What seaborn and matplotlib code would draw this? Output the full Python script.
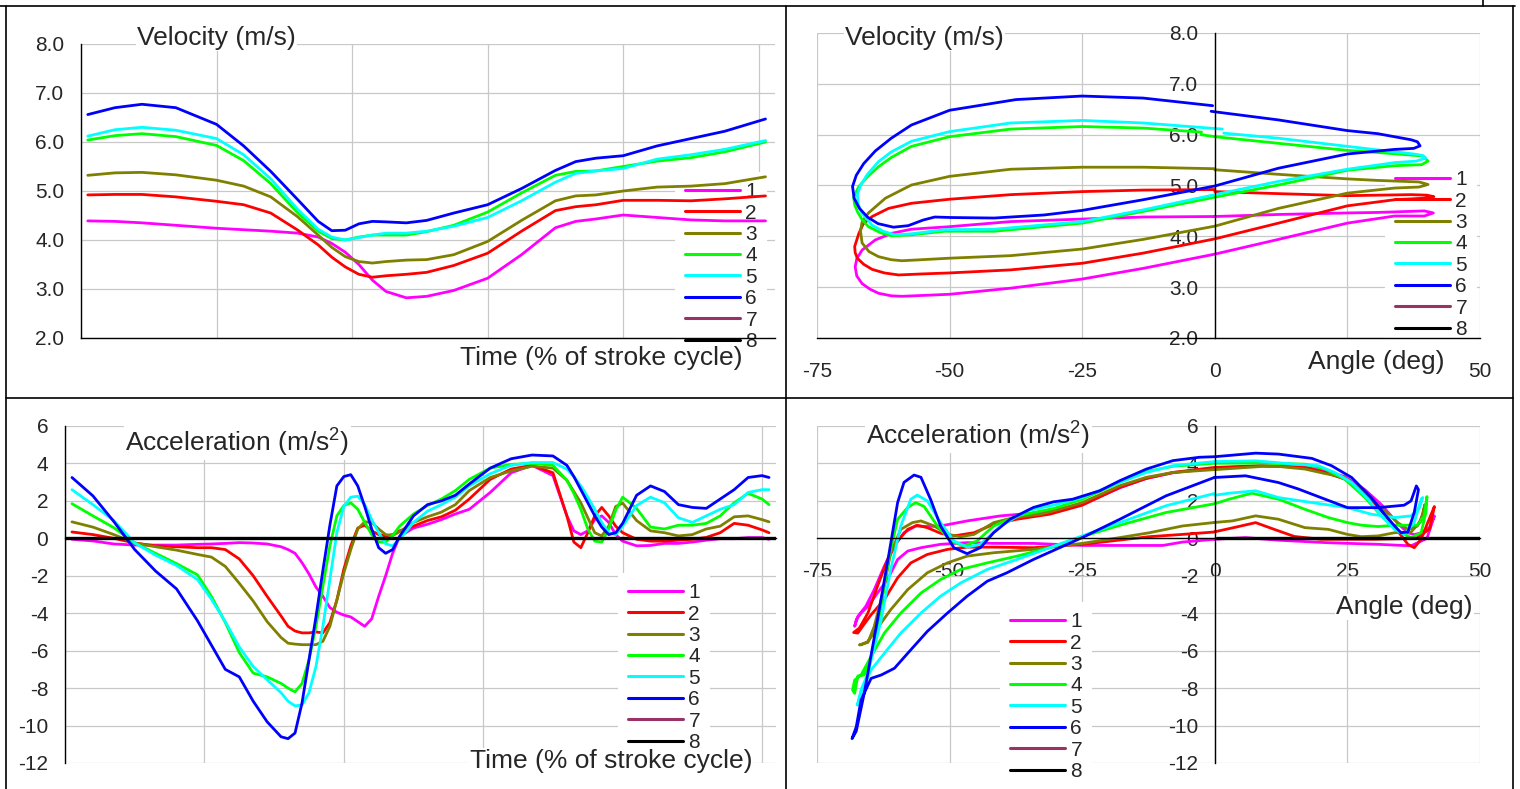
import numpy as np
import pandas as pd
import seaborn as sns
import matplotlib.pyplot as plt
from matplotlib.lines import Line2D
from matplotlib.ticker import MultipleLocator, FormatStrFormatter

sns.set_style('white')
plt.rcParams['font.family'] = ['Liberation Sans', 'DejaVu Sans']
plt.rcParams['mathtext.fontset'] = 'custom'
plt.rcParams['mathtext.rm'] = 'Liberation Sans'
plt.rcParams['mathtext.default'] = 'regular'
plt.rcParams['axes.unicode_minus'] = False

# series names and colours (Excel default palette)
SERIES = ['1', '2', '3', '4', '5', '6', '7', '8']
COLORS = ['#FF00FF', '#FF0000', '#808000', '#00FF00', '#00FFFF', '#0000FF', '#993366', '#000000']

# velocity vs time (% of stroke cycle)
T_VEL = [1, 5, 9, 14, 20, 24, 28, 32, 35, 37, 39, 41, 43, 45, 48, 51, 55, 60, 65, 70, 73, 76, 80, 85, 90, 95, 101]
vel_1 = [4.39, 4.38, 4.35, 4.30, 4.24, 4.21, 4.18, 4.14, 4.06, 3.93, 3.75, 3.50, 3.18, 2.95, 2.82, 2.85, 2.97, 3.22, 3.70, 4.25, 4.38, 4.43, 4.51, 4.46, 4.41, 4.39, 4.39]
vel_2 = [4.92, 4.93, 4.93, 4.88, 4.79, 4.72, 4.55, 4.20, 3.90, 3.65, 3.45, 3.30, 3.24, 3.27, 3.30, 3.34, 3.48, 3.73, 4.18, 4.60, 4.68, 4.72, 4.81, 4.81, 4.80, 4.84, 4.90]
vel_3 = [5.32, 5.37, 5.38, 5.33, 5.22, 5.10, 4.88, 4.47, 4.10, 3.85, 3.66, 3.56, 3.53, 3.56, 3.59, 3.60, 3.70, 3.97, 4.40, 4.80, 4.90, 4.92, 5.00, 5.08, 5.10, 5.15, 5.29]
vel_4 = [6.04, 6.13, 6.17, 6.11, 5.93, 5.62, 5.15, 4.55, 4.18, 4.03, 4.00, 4.06, 4.10, 4.10, 4.10, 4.17, 4.30, 4.57, 4.96, 5.32, 5.40, 5.41, 5.50, 5.61, 5.68, 5.80, 6.00]
vel_5 = [6.12, 6.25, 6.30, 6.24, 6.07, 5.74, 5.25, 4.62, 4.22, 4.06, 4.00, 4.05, 4.10, 4.14, 4.14, 4.18, 4.28, 4.46, 4.80, 5.18, 5.36, 5.41, 5.46, 5.65, 5.74, 5.85, 6.03]
vel_6 = [6.56, 6.70, 6.77, 6.70, 6.36, 5.92, 5.40, 4.82, 4.38, 4.19, 4.20, 4.33, 4.38, 4.37, 4.35, 4.40, 4.55, 4.72, 5.05, 5.42, 5.60, 5.67, 5.72, 5.92, 6.07, 6.22, 6.47]

# acceleration vs time
T_ACC = [1, 4, 7, 10, 13, 16, 19, 21, 23, 25, 27, 29, 31, 32, 33, 34, 35, 36, 37, 38, 39, 40, 41, 42, 43, 44, 45, 46, 47, 48,
         50, 52, 54, 56, 58, 61, 64, 67, 70, 72, 73, 74, 75, 76, 77, 78, 79, 80, 82, 84, 86, 88, 90, 92, 94, 96, 98, 100, 101]
acc_1 = [-0.05, -0.14, -0.3, -0.36, -0.36, -0.36, -0.32, -0.3, -0.27, -0.23, -0.25, -0.3, -0.45, -0.6, -0.8, -1.3, -1.9, -2.6, -3.1, -3.7,
         -3.95, -4.1, -4.2, -4.45, -4.7, -4.3, -3.1, -2.0, -0.8, 0.1, 0.55, 0.75, 1.0, 1.3, 1.55, 2.45, 3.5, 3.9, 3.35, 1.2,
         0.4, 0.2, 0.4, 1.0, 1.2, 0.85, 0.2, -0.15, -0.4, -0.38, -0.27, -0.27, -0.2, -0.1, -0.02, -0.02, 0.04, 0.04, -0.05]
acc_2 = [0.34, 0.2, 0.0, -0.25, -0.4, -0.45, -0.5, -0.5, -0.6, -1.1, -2.0, -3.1, -4.15, -4.7, -4.95, -5.05, -5.05, -5.0, -5.05, -4.5,
         -3.3, -1.65, -0.4, 0.55, 0.7, 0.4, 0.2, 0.13, 0.2, 0.4, 0.65, 0.95, 1.15, 1.5, 2.1, 3.15, 3.7, 3.9, 3.5, 1.2,
         -0.2, -0.5, 0.3, 1.2, 1.65, 1.2, 0.65, 0.3, -0.05, -0.15, -0.15, -0.1, -0.05, 0.05, 0.3, 0.8, 0.7, 0.45, 0.3]
acc_3 = [0.88, 0.6, 0.2, -0.25, -0.45, -0.63, -0.86, -1.0, -1.5, -2.4, -3.35, -4.45, -5.3, -5.6, -5.65, -5.68, -5.68, -5.68, -5.5, -4.7,
         -3.3, -1.85, -0.6, 0.5, 0.88, 0.85, 0.5, 0.2, 0.15, 0.35, 0.85, 1.15, 1.4, 1.8, 2.55, 3.25, 3.6, 3.85, 3.75, 3.1,
         2.5, 1.9, 1.1, 0.3, 0.13, 0.65, 1.7, 1.88, 0.95, 0.4, 0.3, 0.13, 0.2, 0.5, 0.65, 1.15, 1.2, 1.0, 0.88]
acc_4 = [1.85, 1.2, 0.57, -0.25, -0.8, -1.35, -1.95, -3.1, -4.5, -6.1, -7.2, -7.4, -7.75, -8.0, -8.2, -7.75, -6.5, -4.7, -2.55, -0.4,
         1.2, 1.75, 1.9, 1.55, 0.85, 0.2, -0.2, -0.2, 0.15, 0.65, 1.3, 1.75, 2.1, 2.55, 3.15, 3.75, 3.95, 4.0, 3.9, 3.1,
         2.4, 1.55, 0.5, -0.15, -0.2, 0.5, 1.5, 2.2, 1.6, 0.6, 0.5, 0.7, 0.7, 0.8, 1.2, 1.9, 2.4, 2.1, 1.8]
acc_5 = [2.6, 1.8, 0.95, -0.25, -0.9, -1.45, -2.2, -3.25, -4.45, -5.8, -6.85, -7.55, -8.25, -8.7, -8.95, -8.9, -8.25, -6.85, -4.7, -2.2,
         0.3, 1.7, 2.2, 2.25, 1.8, 1.0, 0.3, -0.3, -0.4, -0.05, 0.85, 1.45, 1.8, 2.2, 2.8, 3.45, 3.9, 4.05, 4.05, 3.7,
         3.3, 2.8, 2.2, 1.55, 0.85, 0.3, 0.2, 0.65, 1.75, 2.2, 1.9, 1.1, 0.85, 1.2, 1.55, 1.8, 2.45, 2.6, 2.6]
acc_6 = [3.25, 2.27, 0.9, -0.6, -1.75, -2.7, -4.4, -5.7, -7.0, -7.4, -8.7, -9.8, -10.6, -10.7, -10.4, -8.8, -6.5, -4.2, -1.7, 0.7,
         2.8, 3.3, 3.4, 2.8, 1.7, 0.5, -0.5, -0.8, -0.6, 0.1, 1.2, 1.8, 2.0, 2.3, 2.9, 3.75, 4.25, 4.45, 4.4, 3.9,
         3.3, 2.6, 1.9, 1.2, 0.6, 0.2, 0.3, 0.8, 2.3, 2.8, 2.5, 1.8, 1.65, 1.6, 2.1, 2.6, 3.25, 3.35, 3.25]
t_78 = [0, 102]
acc_78 = [0, 0]

# velocity vs angle (loops, in time order)
tr_ang_1 = [0, -13.5, -25, -38.5, -50, -57.2, -60.9, -64, -66.5, -67.5, -67.8, -67.5, -66.5, -65, -63.4, -61, -59, -50, -38.5, -25,
            -13.5, 0, 12, 25, 33.9, 39.5, 41.2, 39.5, 30.7, 25, 12, 0]
tr_vel_1 = [4.39, 4.38, 4.34, 4.29, 4.19, 4.14, 4.06, 3.93, 3.73, 3.56, 3.40, 3.22, 3.07, 2.96, 2.88, 2.83, 2.82, 2.86, 2.98, 3.16,
            3.37, 3.65, 3.94, 4.26, 4.40, 4.40, 4.46, 4.50, 4.47, 4.46, 4.43, 4.39]
tr_ang_2 = [0, -13.5, -25, -38.5, -50, -57.2, -61.5, -64.6, -66.3, -67.1, -67.9, -67.8, -67.4, -66.2, -64.6, -62.3, -59.6, -55.3, -50, -38.5,
            -25, -13.5, 0, 12, 25, 33.9, 39.5, 41.3, 40, 37, 25, 12, 0]
tr_vel_2 = [4.92, 4.91, 4.88, 4.82, 4.73, 4.65, 4.55, 4.39, 4.24, 4.06, 3.80, 3.68, 3.57, 3.45, 3.35, 3.28, 3.24, 3.26, 3.28, 3.34,
            3.47, 3.67, 3.95, 4.26, 4.60, 4.72, 4.75, 4.78, 4.81, 4.82, 4.80, 4.84, 4.88]
tr_ang_3 = [0, -13.5, -25, -38.5, -50, -57.2, -62.1, -65.3, -66.5, -66.8, -66.5, -65.2, -63.4, -61, -59, -55.3, -50, -38.5, -25, -13.5,
            0, 12, 25, 33.9, 38.5, 40.2, 38.5, 30.7, 25, 12, 0]
tr_vel_3 = [5.33, 5.36, 5.36, 5.32, 5.18, 5.01, 4.75, 4.46, 4.28, 4.10, 3.87, 3.70, 3.60, 3.54, 3.52, 3.54, 3.57, 3.62, 3.75, 3.94,
            4.2, 4.55, 4.85, 4.95, 4.97, 5.02, 5.07, 5.10, 5.13, 5.22, 5.31]
tr_ang_4 = [-2.5, -13.5, -25, -38.5, -50, -57.2, -61, -63.4, -65.5, -67.1, -68.1, -67.9, -67.4, -66.5, -65.3, -63, -60.9, -57.2, -51, -41.6,
            -25, -13.5, 0, 12, 25, 33.9, 39.0, 40.2, 39.2, 30.7, 25, 12, 0, -2.6]
tr_vel_4 = [6.05, 6.13, 6.16, 6.11, 5.96, 5.77, 5.55, 5.37, 5.17, 4.98, 4.78, 4.62, 4.49, 4.33, 4.19, 4.07, 4.01, 4.03, 4.10, 4.10,
            4.26, 4.49, 4.77, 5.01, 5.30, 5.39, 5.41, 5.48, 5.58, 5.65, 5.69, 5.83, 5.96, 6.0]
tr_ang_5 = [1.4, -13.5, -25, -38.5, -50, -57.2, -61, -63.4, -65.5, -66.8, -67.4, -67.2, -66.5, -64.6, -62.5, -60.3, -57.2, -51, -41.6, -25,
            -13.5, 0, 12, 25, 33.9, 38.0, 39.8, 39.2, 37.5, 30.7, 25, 12, 1.7]
tr_vel_5 = [6.11, 6.23, 6.28, 6.23, 6.06, 5.87, 5.66, 5.47, 5.22, 5.00, 4.82, 4.62, 4.45, 4.22, 4.10, 4.03, 4.05, 4.13, 4.14, 4.29,
            4.52, 4.82, 5.08, 5.32, 5.45, 5.48, 5.54, 5.59, 5.62, 5.70, 5.77, 5.93, 6.03]
tr_ang_6 = [-0.4, -13.5, -25, -37.5, -50, -57.2, -61, -64, -66.2, -67.6, -68.3, -68.0, -67.0, -65.5, -63.5, -60.6, -57.8, -55, -52.8, -49.7,
            -41.6, -32.2, -25, -13.5, 0, 12, 25, 33.9, 37.5, 38.7, 38.2, 37, 30.7, 25, 12, 0, -0.7]
tr_vel_6 = [6.57, 6.72, 6.76, 6.69, 6.48, 6.19, 5.93, 5.68, 5.43, 5.20, 4.98, 4.75, 4.55, 4.38, 4.25, 4.18, 4.21, 4.32, 4.38, 4.37,
            4.36, 4.42, 4.51, 4.72, 4.99, 5.34, 5.62, 5.71, 5.73, 5.78, 5.86, 5.90, 6.02, 6.08, 6.29, 6.45, 6.46]

# acceleration vs angle (loops, in time order)
br_ang_1 = [0, -6.1, -9.8, -15.4, -25, -34.2, -41.7, -46.7, -51.7, -55.4, -57.9, -59.8, -61.7, -63.6, -65.4, -66.7, -67.6, -67.9, -67.3, -65.8,
            -64.2, -62.3, -60.4, -58.6, -56.4, -54.2, -51.7, -46.7, -40.4, -34.2, -30.4, -25, -17.9, -12.9, -7.9, 0, 8.9, 17, 20.8, 24.5,
            28.3, 31.4, 34.5, 36.4, 37.6, 39, 40.5, 41.4, 40, 37, 30.8, 21, 12, 5.8, 0]
br_acc_1 = [-0.05, -0.20, -0.38, -0.38, -0.38, -0.27, -0.27, -0.23, -0.32, -0.50, -0.68, -1.13, -2.2, -2.92, -3.63, -3.99, -4.35, -4.70, -4.17, -3.63,
            -2.74, -1.48, -0.41, 0.30, 0.66, 0.63, 0.66, 0.93, 1.2, 1.35, 1.5, 1.8, 2.7, 3.2, 3.5, 3.75, 3.87, 3.8, 3.6, 3.3,
            2.6, 1.8, 0.8, 0.3, 0.2, 0.3, 0.6, 1.2, 0.0, -0.4, -0.32, -0.23, -0.1, 0.04, -0.05]
br_ang_2 = [0, -6.1, -12.3, -17.9, -25, -34.2, -41.7, -46.7, -50.4, -54.2, -57.3, -59.8, -62.3, -64.8, -66.4, -67.3, -68.1, -67, -65.4, -63.6,
            -61.7, -59.8, -57.9, -56.1, -54.2, -51.7, -49.2, -45.4, -41.7, -37.3, -31.1, -25, -17.9, -12.9, -7.9, 0, 8.9, 17, 20.8, 24.5,
            28.3, 31.4, 34.5, 36.4, 37.6, 38.9, 40.4, 41.4, 40.5, 38, 30, 20, 15, 11, 7.7, 4, 0]
br_acc_2 = [0.34, 0.21, 0.09, -0.09, -0.32, -0.50, -0.47, -0.47, -0.59, -0.86, -1.31, -2.11, -3.27, -4.08, -4.70, -5.06, -5.03, -4.79, -3.99, -2.56,
            -1.13, -0.14, 0.48, 0.70, 0.57, 0.27, 0.13, 0.30, 0.75, 1.02, 1.29, 1.77, 2.72, 3.20, 3.52, 3.79, 3.88, 3.79, 3.52, 3.16,
            2.45, 1.46, 0.39, -0.32, -0.5, -0.05, 1.02, 1.70, 0.5, 0.0, -0.05, -0.05, 0.1, 0.5, 0.84, 0.6, 0.35]
br_ang_3 = [0, -6.1, -12.3, -17.9, -25, -34.2, -41.7, -46.7, -50.4, -54.2, -57.9, -61.1, -63.6, -65.4, -66.7, -67, -65.4, -64.2, -62.6, -61.1,
            -59.2, -57, -55.4, -52.9, -50.4, -47.9, -45.4, -41.7, -37.9, -32.9, -29.2, -25, -17.9, -12.9, -7.9, 0, 8.9, 12, 17, 20.8,
            24.5, 28.3, 31.4, 34.5, 36.4, 38.2, 39.3, 39.6, 38.8, 37, 33.9, 30.8, 27.6, 25, 21.4, 17, 12, 7.7, 3.3, 0]
br_acc_3 = [0.85, 0.66, 0.30, 0.04, -0.27, -0.59, -0.77, -0.95, -1.31, -1.84, -2.74, -3.81, -4.79, -5.51, -5.69, -5.69, -5.56, -4.70, -2.92, -0.77,
            0.48, 0.84, 0.93, 0.66, 0.21, 0.09, 0.21, 0.84, 1.11, 1.29, 1.56, 1.91, 2.81, 3.26, 3.52, 3.67, 3.84, 3.84, 3.7, 3.46,
            3.25, 2.45, 1.64, 0.84, 0.48, 0.66, 1.3, 1.8, 0.9, 0.34, 0.30, 0.13, 0.09, 0.21, 0.48, 0.57, 1.02, 1.2, 0.93, 0.85]
br_ang_4 = [0, -9.2, -17.9, -25, -31.1, -37.3, -42.9, -47.9, -51.7, -55.4, -59.2, -62.3, -64.8, -66.7, -67.9, -68.3, -67.9, -67.3, -66.1, -64.5,
            -62.9, -61.4, -59.8, -57.9, -56.4, -54.8, -52.3, -49.8, -47.3, -44.8, -41.7, -37.3, -30.4, -25, -17.9, -12.9, -7.9, 0, 8.9, 17,
            20.8, 24.5, 28.3, 31.4, 34.5, 37, 38.9, 39.8, 40, 39.5, 38.2, 33.9, 30.8, 27.7, 25, 21.4, 17, 12, 7, 2.7, 0]
br_acc_4 = [1.85, 1.38, 0.70, 0.09, -0.50, -0.95, -1.31, -1.66, -2.20, -2.92, -3.99, -5.06, -6.31, -7.30, -7.57, -8.10, -8.28, -7.35, -7.30, -6.14,
            -3.63, -0.95, 1.02, 1.65, 1.91, 1.70, 0.66, -0.14, -0.41, -0.14, 0.66, 1.20, 1.59, 2.09, 2.99, 3.56, 3.85, 4.01, 4.02, 3.96,
            3.7, 3.16, 2.18, 1.2, 0.39, 0.04, 0.30, 1.38, 2.23, 1.2, 0.70, 0.70, 0.63, 0.70, 0.84, 1.11, 1.55, 2.09, 2.41, 2.09, 1.85]
br_ang_5 = [0, -9.2, -17.9, -25, -31.1, -37.3, -42.9, -47.9, -51.7, -55.4, -59.2, -62.3, -64.8, -66.7, -67.4, -66.7, -65.4, -62.9, -61.1, -59.2,
            -57.3, -56.1, -54.2, -51.7, -49.2, -46.7, -44.2, -40.4, -35.4, -30.4, -25, -17.9, -12.9, -7.9, 0, 7.7, 15.2, 19.5, 22.6, 25.8,
            28.9, 31.4, 33.9, 35.7, 37.6, 38.9, 39.2, 38.6, 37, 33.9, 29.5, 25, 18.3, 12, 7.7, 2.7, 0]
br_acc_5 = [2.4, 1.74, 0.84, 0.13, -0.50, -1.13, -1.66, -2.38, -3.09, -3.99, -5.06, -6.14, -7.03, -8.28, -8.91, -8.10, -7.21, -4.35, -1.66, 0.66,
            2.09, 2.31, 2.0, 0.84, -0.14, -0.47, -0.32, 0.66, 1.47, 1.77, 2.18, 2.99, 3.52, 3.88, 4.10, 4.14, 3.96, 3.88, 3.52, 2.98,
            2.09, 1.2, 0.48, 0.21, 0.84, 2.09, 2.18, 1.64, 1.2, 1.11, 1.29, 1.64, 1.91, 2.18, 2.54, 2.41, 2.3]
br_ang_6 = [0, -9.2, -17.9, -25, -34.2, -39.2, -42.9, -46.7, -50.4, -54.2, -57.9, -60.4, -62.9, -64.8, -66.7, -67.6, -68.4, -67.6, -66.1, -63.6,
            -61.4, -59.8, -58.6, -56.7, -55.4, -53.6, -51.7, -49.2, -46.7, -44.2, -41.7, -38.6, -34.2, -30.4, -26.8, -21.7, -17.9, -12.9, -7.9, -2.9,
            0, 7.7, 12, 18.3, 22, 25.8, 29.5, 32, 33.9, 35.1, 36.4, 37.6, 38.4, 38.0, 37, 35.7, 30.8, 25, 20.8, 15.8,
            12, 5.8, 0]
br_acc_6 = [3.26, 2.27, 1.02, 0.04, -1.13, -1.84, -2.29, -3.09, -3.99, -4.97, -6.14, -6.94, -7.30, -7.48, -8.64, -10.07, -10.7, -10.3, -8.28, -4.35,
            -0.77, 1.91, 2.99, 3.38, 3.26, 2.09, 0.66, -0.50, -0.82, -0.50, 0.30, 1.02, 1.65, 1.95, 2.09, 2.54, 3.08, 3.70, 4.15, 4.33,
            4.36, 4.55, 4.5, 4.27, 3.88, 3.25, 2.18, 1.29, 0.66, 0.30, 0.34, 1.38, 2.6, 2.8, 2.0, 1.77, 1.64, 1.64, 2.09, 2.63,
            2.98, 3.34, 3.25]
br_ang_8 = [0.5, 50]
br_acc_8 = [0, 0]

W, H = 1520, 789
GRID = '#c8c8c8'
FS_TICK = 15
FS_TITLE = 19
LW = 2.0

fig = plt.figure(figsize=(W / 100, H / 100), dpi=100)
fig.patch.set_facecolor('white')


def px_axes(x0, y0, x1, y1):
    return fig.add_axes([x0 / W, 1 - y1 / H, (x1 - x0) / W, (y1 - y0) / H])


def base_style(ax):
    ax.set_facecolor('none')
    for s in ['top', 'right']:
        ax.spines[s].set_visible(False)
    for s in ['left', 'bottom']:
        ax.spines[s].set_color('black')
        ax.spines[s].set_linewidth(1.0)
    ax.grid(True, which='major', color=GRID, linewidth=0.9)
    ax.set_axisbelow(True)
    ax.tick_params(which='both', direction='out', color='black', width=0.9,
                   labelsize=FS_TICK, pad=6)
    ax.tick_params(which='major', length=6)
    ax.tick_params(which='minor', length=4)
    ax.set_xlabel('')
    ax.set_ylabel('')


def draw(ax, x, y, i, lw=LW):
    sns.lineplot(x=x, y=y, ax=ax, color=COLORS[i], linewidth=lw, sort=False,
                 estimator=None, legend=False, solid_joinstyle='round')


def add_legend(ax, x_line, y_row1):
    handles = [Line2D([], [], color=c, lw=2.2) for c in COLORS]
    fs_px = FS_TICK * 100 / 72
    bp = 0.5
    ax_x = (x_line - bp * fs_px) / W
    ax_y = 1 - (y_row1 - 7.8 - bp * fs_px) / H
    leg = ax.legend(handles, SERIES, loc='upper left', bbox_to_anchor=(ax_x, ax_y),
                    bbox_transform=fig.transFigure, fontsize=FS_TICK, handlelength=2.65,
                    handletextpad=0.25, labelspacing=0.115, borderpad=bp, borderaxespad=0,
                    frameon=True, fancybox=False, framealpha=1, facecolor='white',
                    edgecolor='none')
    # white box hides the gridlines but the data curves stay on top
    leg.set_zorder(1.5)


def label(x, y, s, ha):
    fig.text(x / W, 1 - y / H, s, fontsize=FS_TITLE, ha=ha, va='center',
             bbox=dict(facecolor='white', edgecolor='none', pad=1.0), zorder=6)


# ---- top left: velocity vs time
ax1 = px_axes(81, 44, 775, 338)
for i, v in enumerate([vel_1, vel_2, vel_3, vel_4, vel_5, vel_6]):
    draw(ax1, T_VEL, v, i)
base_style(ax1)
ax1.set_xlim(0, 102.4)
ax1.set_ylim(2, 8)
ax1.xaxis.set_major_locator(MultipleLocator(20))
ax1.xaxis.set_minor_locator(MultipleLocator(10))
ax1.yaxis.set_major_locator(MultipleLocator(1))
ax1.yaxis.set_major_formatter(FormatStrFormatter('%.1f'))
ax1.tick_params(axis='x', which='both', length=5, labelbottom=False)
add_legend(ax1, 685, 190)

# ---- top right: velocity vs angle
ax2 = px_axes(817, 33, 1480, 338)
tr = [(tr_ang_1, tr_vel_1), (tr_ang_2, tr_vel_2), (tr_ang_3, tr_vel_3),
      (tr_ang_4, tr_vel_4), (tr_ang_5, tr_vel_5), (tr_ang_6, tr_vel_6)]
for i, (a, v) in enumerate(tr):
    draw(ax2, a, v, i)
base_style(ax2)
ax2.set_xlim(-75, 50)
ax2.set_ylim(2, 8)
ax2.spines['left'].set_position(('data', 0))
ax2.set_xticks([-75, -50, -25, 0, 25, 50], labels=['-75', '-50', '-25', '0', '', '50'])
ax2.xaxis.set_minor_locator(MultipleLocator(5))
ax2.yaxis.set_major_locator(MultipleLocator(1))
ax2.yaxis.set_major_formatter(FormatStrFormatter('%.1f'))
ax2.tick_params(axis='x', which='major', pad=11)
add_legend(ax2, 1395, 178)

# ---- bottom left: acceleration vs time
ax3 = px_axes(65, 426, 776, 763)
for i, a in enumerate([acc_1, acc_2, acc_3, acc_4, acc_5, acc_6]):
    draw(ax3, T_ACC, a, i)
draw(ax3, t_78, acc_78, 6)
draw(ax3, t_78, acc_78, 7, lw=2.4)
base_style(ax3)
ax3.set_xlim(0, 102)
ax3.set_ylim(-12, 6)
ax3.spines['bottom'].set_position(('data', 0))
ax3.xaxis.set_major_locator(MultipleLocator(20))
ax3.yaxis.set_major_locator(MultipleLocator(2))
ax3.yaxis.set_major_formatter(FormatStrFormatter('%d'))
ax3.tick_params(axis='x', which='both', length=6, labelbottom=False)
add_legend(ax3, 628, 591)

# ---- bottom right: acceleration vs angle
ax4 = px_axes(817, 426, 1480, 763)
br = [(br_ang_1, br_acc_1), (br_ang_2, br_acc_2), (br_ang_3, br_acc_3),
      (br_ang_4, br_acc_4), (br_ang_5, br_acc_5), (br_ang_6, br_acc_6)]
for i, (a, v) in enumerate(br):
    draw(ax4, a, v, i)
draw(ax4, br_ang_8, br_acc_8, 7, lw=2.4)
base_style(ax4)
ax4.set_xlim(-75, 50)
ax4.set_ylim(-12, 6)
ax4.spines['left'].set_position(('data', 0))
ax4.spines['bottom'].set_position(('data', 0))
ax4.set_xticks([-75, -50, -25, 0, 25, 50], labels=['-75', '-50', '-25', '0', '25', '50'])
ax4.xaxis.set_minor_locator(MultipleLocator(5))
ax4.yaxis.set_major_locator(MultipleLocator(2))
ax4.yaxis.set_major_formatter(FormatStrFormatter('%d'))
ax4.tick_params(axis='x', which='major', pad=11)
add_legend(ax4, 1010, 620)

# panel titles
label(137, 38, 'Velocity (m/s)', 'left')
label(845, 38, 'Velocity (m/s)', 'left')
label(742, 358, 'Time (% of stroke cycle)', 'right')
label(1445, 362, 'Angle (deg)', 'right')
label(125, 443, 'Acceleration (m/s$^{2}$)', 'left')
label(752, 761, 'Time (% of stroke cycle)', 'right')
label(866, 436, 'Acceleration (m/s$^{2}$)', 'left')
label(1473, 607, 'Angle (deg)', 'right')

# table borders around the four panels
borders = [((0, 6), (1515, 6)), ((6, 6), (6, 789)), ((786, 6), (786, 789)),
           ((6, 398), (1513, 398)), ((1513, 6), (1513, 789)), ((1483, 0), (1483, 6))]
for (x0, y0), (x1, y1) in borders:
    fig.add_artist(Line2D([x0 / W, x1 / W], [1 - y0 / H, 1 - y1 / H],
                          transform=fig.transFigure, color='black', lw=1.2))

fig.savefig('out.png', dpi=100, facecolor='white')
